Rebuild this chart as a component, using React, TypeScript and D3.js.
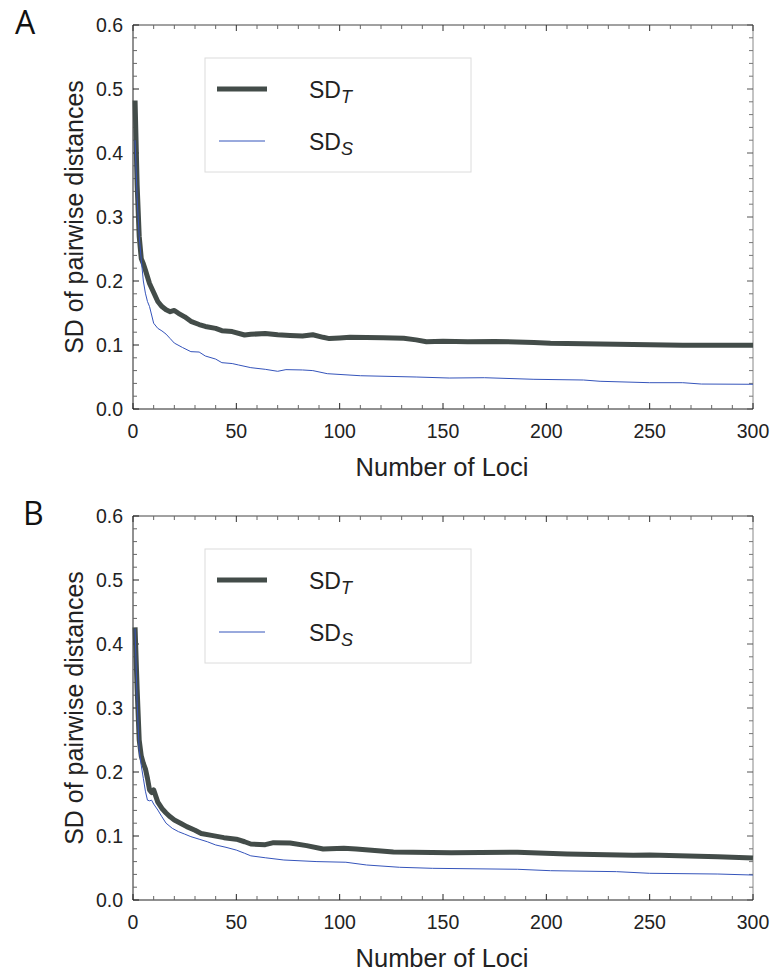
import React from "react";
import * as d3 from "d3";

// Panel A data
const lociA_T = [1, 2, 3, 4, 5, 6, 8, 10, 12, 14, 16, 18, 20, 22, 25, 28, 32, 35, 40, 43, 48, 54, 57, 64, 70, 76, 82, 87, 92, 95, 100, 105, 121, 131, 137, 142, 150, 162, 175, 194, 202, 226, 250, 266, 300];
const valsA_T = [0.482, 0.35, 0.27, 0.235, 0.227, 0.217, 0.196, 0.182, 0.168, 0.16, 0.155, 0.152, 0.154, 0.1495, 0.144, 0.137, 0.132, 0.129, 0.126, 0.1224, 0.121, 0.1156, 0.1167, 0.118, 0.116, 0.115, 0.114, 0.116, 0.112, 0.11, 0.111, 0.112, 0.1114, 0.1104, 0.108, 0.105, 0.106, 0.105, 0.1055, 0.104, 0.1026, 0.1016, 0.1005, 0.0995, 0.0995];
const lociA_S = [1, 2, 3, 4, 5, 6, 7, 8, 10, 12, 14, 16, 18, 20, 24, 28, 32, 35, 40, 43, 48, 51, 57, 64, 70, 74, 82, 87, 94, 110, 137, 153, 170, 194, 218, 226, 250, 266, 275, 300];
const valsA_S = [0.42, 0.33, 0.27, 0.233, 0.2, 0.181, 0.168, 0.16, 0.134, 0.126, 0.122, 0.117, 0.11, 0.103, 0.096, 0.0896, 0.089, 0.0828, 0.078, 0.0724, 0.071, 0.0688, 0.0646, 0.062, 0.0589, 0.0615, 0.061, 0.06, 0.0552, 0.052, 0.05, 0.0484, 0.0489, 0.0464, 0.0453, 0.0433, 0.0411, 0.0411, 0.039, 0.0386];

// Panel B data
const lociB_T = [1, 2, 3, 4, 5, 6, 7, 8, 9, 10, 12, 14, 16, 18, 20, 23, 26, 30, 33, 38, 44, 50, 54, 57, 64, 68, 76, 84, 92, 102, 108, 126, 154, 186, 210, 242, 250, 283, 300];
const valsB_T = [0.426, 0.33, 0.25, 0.225, 0.2135, 0.205, 0.19, 0.172, 0.168, 0.172, 0.153, 0.143, 0.136, 0.13, 0.125, 0.12, 0.1146, 0.109, 0.104, 0.101, 0.0974, 0.095, 0.091, 0.0875, 0.0865, 0.0896, 0.089, 0.085, 0.0797, 0.0807, 0.0797, 0.075, 0.0739, 0.0745, 0.0719, 0.0698, 0.0703, 0.0677, 0.0656];
const lociB_S = [1, 2, 3, 4, 5, 6, 7, 8, 9, 10, 12, 14, 16, 19, 22, 25, 28, 32, 36, 40, 45, 50, 54, 57, 64, 73, 89, 103, 113, 129, 145, 186, 202, 234, 250, 283, 300];
const valsB_S = [0.424, 0.31, 0.234, 0.21, 0.19, 0.17, 0.156, 0.155, 0.156, 0.15, 0.1406, 0.13, 0.12, 0.112, 0.1068, 0.103, 0.099, 0.095, 0.091, 0.086, 0.0823, 0.078, 0.073, 0.069, 0.066, 0.0625, 0.06, 0.059, 0.0547, 0.0511, 0.0495, 0.048, 0.0458, 0.0443, 0.0417, 0.0406, 0.039];

const yMajor = [0, 0.1, 0.2, 0.3, 0.4, 0.5, 0.6];
const xMajor = [0, 50, 100, 150, 200, 250, 300];
const panelLetters = ["A", "B"];
const seriesNames = ["T", "S"];

const FONT = "'Liberation Sans', Arial, sans-serif";
const DARK = "#434c49";
const BLUE = "#3554bb";

type PanelProps = { top: number; letter: string; letterX: number; lociT: number[]; valsT: number[]; lociS: number[]; valsS: number[] };

function Panel({ top, letter, letterX, lociT, valsT, lociS, valsS }: PanelProps) {
  const left = 133, right = 753, bottom = top + 384;
  const x = d3.scaleLinear().domain([0, 300]).range([left, right]);
  const y = d3.scaleLinear().domain([0, 0.6]).range([bottom, top]);
  const line = d3.line<[number, number]>().x(d => x(d[0])).y(d => y(d[1]));
  const dT = line(lociT.map((l, i) => [l, valsT[i]] as [number, number])) || "";
  const dS = line(lociS.map((l, i) => [l, valsS[i]] as [number, number])) || "";
  const yMinor = d3.range(0, 0.6001, 0.02).filter(v => Math.abs(Math.round(v * 10) - v * 10) > 1e-6);
  const xMinor = d3.range(0, 301, 10).filter(v => v % 50 !== 0);
  const lgL = left + 72, lgT = top + 33;
  return (
    <g>
      <text x={letterX} y={top + 9} fontFamily="'Open Sans', sans-serif" fontSize={32} fill="#111">{letter}</text>
      {/* frame */}
      <line x1={left} x2={right} y1={top} y2={top} stroke="#444" strokeWidth={1} />
      <line x1={right} x2={right} y1={top} y2={bottom} stroke="#888" strokeWidth={1} />
      <line x1={left} x2={right} y1={bottom} y2={bottom} stroke="#222" strokeWidth={1} />
      <line x1={left} x2={left} y1={top} y2={bottom} stroke="#222" strokeWidth={1} />
      {/* y ticks */}
      {yMajor.map(v => (
        <g key={"ym" + v}>
          <line x1={left} x2={left + 6} y1={y(v)} y2={y(v)} stroke="#222" />
          <line x1={right} x2={right - 6} y1={y(v)} y2={y(v)} stroke="#555" />
          <text x={123} y={y(v) + 7} textAnchor="end" fontFamily={FONT} fontSize={19.5} fill="#222">{v.toFixed(1)}</text>
        </g>
      ))}
      {yMinor.map(v => (
        <g key={"yn" + v}>
          <line x1={left} x2={left + 4} y1={y(v)} y2={y(v)} stroke="#666" />
          <line x1={right} x2={right - 4} y1={y(v)} y2={y(v)} stroke="#777" />
        </g>
      ))}
      {/* x ticks */}
      {xMajor.map(v => (
        <g key={"xm" + v}>
          <line x1={x(v)} x2={x(v)} y1={bottom} y2={bottom - 6} stroke="#222" />
          <line x1={x(v)} x2={x(v)} y1={top} y2={top + 6} stroke="#333" />
          <text x={x(v)} y={bottom + 29} textAnchor="middle" fontFamily={FONT} fontSize={19.5} fill="#222">{v}</text>
        </g>
      ))}
      {xMinor.map(v => (
        <g key={"xn" + v}>
          <line x1={x(v)} x2={x(v)} y1={bottom} y2={bottom - 4} stroke="#666" />
          <line x1={x(v)} x2={x(v)} y1={top} y2={top + 4} stroke="#666" />
        </g>
      ))}
      <text x={(left + right) / 2 - 1} y={bottom + 67} textAnchor="middle" fontFamily={FONT} fontSize={25.5} fill="#222">Number of Loci</text>
      <text transform={`translate(83,${(top + bottom) / 2}) rotate(-90)`} textAnchor="middle" fontFamily={FONT} fontSize={25} fill="#222">SD of pairwise distances</text>
      {/* data */}
      <path d={dT} fill="none" stroke={DARK} strokeWidth={5} strokeLinejoin="round" />
      <path d={dS} fill="none" stroke={BLUE} strokeWidth={1} strokeLinejoin="round" />
      {/* legend */}
      <rect x={lgL} y={lgT} width={266} height={114} fill="#fff" stroke="#dcdcdc" strokeWidth={1} />
      <line x1={lgL + 12} x2={lgL + 62} y1={lgT + 31} y2={lgT + 31} stroke={DARK} strokeWidth={5} />
      <line x1={lgL + 14} x2={lgL + 60} y1={lgT + 83} y2={lgT + 83} stroke={BLUE} strokeWidth={1} />
      {seriesNames.map((s, i) => (
        <text key={s} x={lgL + 104} y={lgT + 40 + i * 51.5} fontFamily={FONT} fontSize={23} fill="#222">
          SD<tspan fontSize={18} fontStyle="italic" dy={5}>{s}</tspan>
        </text>
      ))}
    </g>
  );
}

export default function App() {
  return (
    <svg width={771} height={972} style={{ position: "absolute", left: 0, top: 0, background: "#fff" }}>
      <rect width={771} height={972} fill="#fff" />
      <Panel top={25} letter={panelLetters[0]} letterX={15} lociT={lociA_T} valsT={valsA_T} lociS={lociA_S} valsS={valsA_S} />
      <Panel top={516} letter={panelLetters[1]} letterX={23} lociT={lociB_T} valsT={valsB_T} lociS={lociB_S} valsS={valsB_S} />
    </svg>
  );
}
